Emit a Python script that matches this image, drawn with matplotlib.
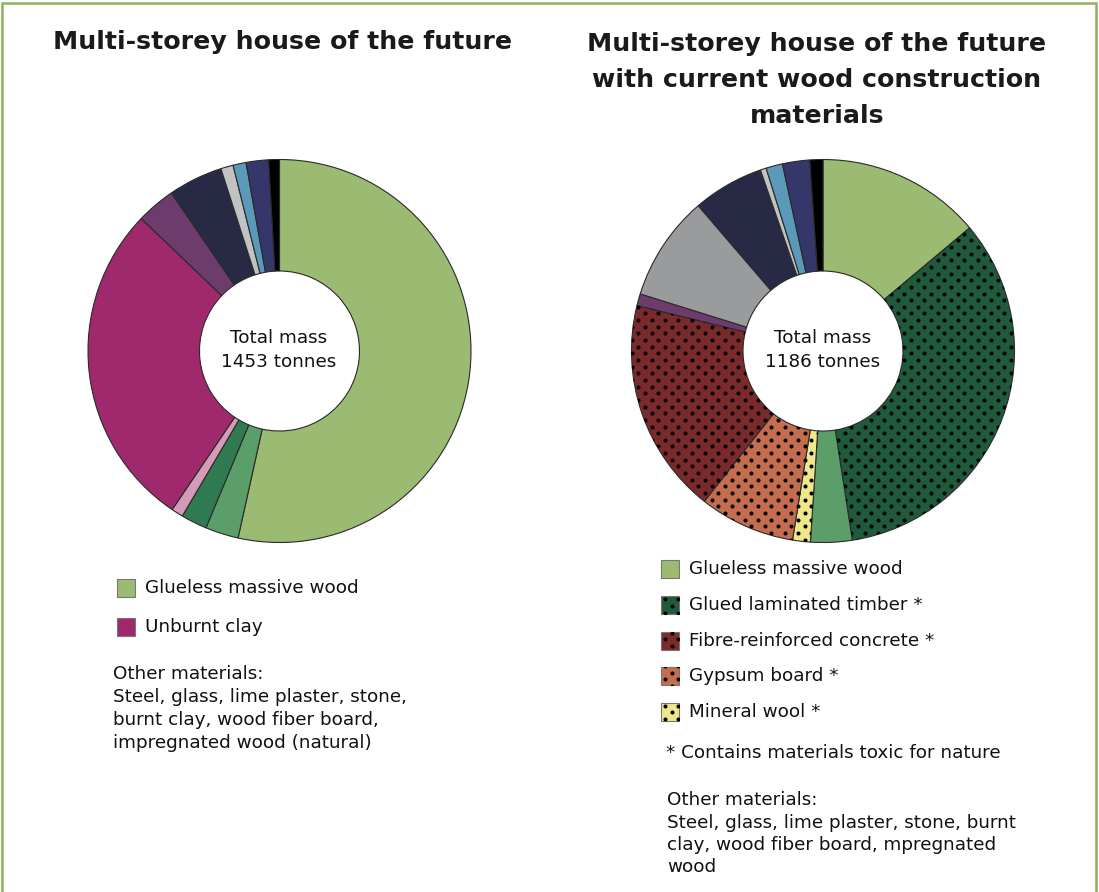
import numpy as np
import matplotlib.pyplot as plt
from matplotlib.patches import Rectangle

W, H = 1099, 892

# left donut: multi-storey house of the future (shares in %)
left_labels = ['Glueless massive wood', 'Wood fiber board', 'Impregnated wood', 'Burnt clay',
               'Unburnt clay', 'Lime plaster', 'Steel', 'Glass', 'Stone', 'Other 1', 'Other 2']
left_values = [53.5, 2.8, 2.2, 1.0, 27.7, 3.3, 4.6, 1.05, 1.1, 1.9, 0.9]
left_colors = ['#9bba72', '#5b9e6a', '#2f7a50', '#d49ab7', '#a0296e', '#6e3b6d',
               '#282a45', '#c0c2c4', '#5a9ab8', '#35366a', '#000000']

# right donut: with current wood construction materials (shares in %)
right_labels = ['Glueless massive wood', 'Glued laminated timber', 'Wood fiber board', 'Mineral wool',
                'Gypsum board', 'Fibre-reinforced concrete', 'Lime plaster', 'Grey', 'Steel',
                'Glass', 'Stone', 'Other 1', 'Other 2']
right_values = [13.9, 33.7, 3.5, 1.5, 8.1, 18.2, 1.0, 8.9, 6.0, 0.5, 1.4, 2.3, 1.1]
right_colors = ['#9bba72', '#1f5a3c', '#5b9e6a', '#f0e68a', '#c46d4f', '#7b2a2c', '#6e3b6d',
                '#9a9b9c', '#282a45', '#c0c2c4', '#5a9ab8', '#35366a', '#000000']
right_dotted = [False, True, False, True, True, True, False, False, False, False, False, False, False]

left_total = '1453 tonnes'
right_total = '1186 tonnes'

left_legend = [('Glueless massive wood', '#9bba72', False), ('Unburnt clay', '#a0296e', False)]
right_legend = [('Glueless massive wood', '#9bba72', False),
                ('Glued laminated timber *', '#1f5a3c', True),
                ('Fibre-reinforced concrete *', '#7b2a2c', True),
                ('Gypsum board *', '#c46d4f', True),
                ('Mineral wool *', '#f0e68a', True)]

FONT = 'DejaVu Sans'
TXT = '#111111'
FS = 13.2
TS = 18.2


def Y(y):
    return H - y


# staggered dot texture used for the "toxic" materials
DX, DY = 13.3, 6.65
gx, gy = np.meshgrid(np.arange(0, W + DX, DX), np.arange(0, H + DY, DY))
gx = gx + (np.arange(gy.shape[0]) % 2)[:, None] * DX / 2
gx, gy = gx.ravel(), gy.ravel()


def add_dots(patch):
    sc = ax.scatter(gx, gy, s=8.5, c='black', linewidths=0, zorder=patch.get_zorder() + 0.1)
    sc.set_clip_path(patch)


fig = plt.figure(figsize=(W / 100, H / 100), dpi=100)
ax = fig.add_axes([0, 0, 1, 1])

R = 191.5
hole = 80
wp = dict(width=R - hole, edgecolor='#2a2a2a', linewidth=0.8)

ax.pie(left_values, colors=left_colors, startangle=90, counterclock=False,
       center=(279.5, Y(351)), radius=R, wedgeprops=wp, frame=True)
wedges, _ = ax.pie(right_values, colors=right_colors, startangle=90, counterclock=False,
                   center=(823, Y(351)), radius=R, wedgeprops=wp, frame=True)
for w, dotted in zip(wedges, right_dotted):
    if dotted:
        add_dots(w)

ax.set_xlim(0, W)
ax.set_ylim(0, H)
ax.set_aspect('auto')
ax.axis('off')

# frame
ax.add_patch(Rectangle((2, -20), W - 5, H - 3 + 20, fill=False, edgecolor='#8cb35c', linewidth=1.8))

# titles
ax.text(283, Y(42), 'Multi-storey house of the future', ha='center', va='center',
        fontsize=TS, fontweight='bold', family=FONT, color='#1a1a1a')
for i, line in enumerate(['Multi-storey house of the future', 'with current wood construction', 'materials']):
    ax.text(817, Y(44 + 36 * i), line, ha='center', va='center',
            fontsize=TS, fontweight='bold', family=FONT, color='#1a1a1a')

# center labels
for cx, tot in [(279, left_total), (823, right_total)]:
    ax.text(cx, Y(338), 'Total mass', ha='center', va='center', fontsize=FS, family=FONT, color=TXT)
    ax.text(cx, Y(362), tot, ha='center', va='center', fontsize=FS, family=FONT, color=TXT)


# legends
def legend(x, y0, step, items):
    for i, (lab, col, dotted) in enumerate(items):
        y = y0 + step * i
        sq = ax.add_patch(Rectangle((x - 9, Y(y) - 9), 18, 18, facecolor=col,
                                    edgecolor='#777777', linewidth=0.8))
        if dotted:
            add_dots(sq)
        ax.text(x + 19, Y(y), lab, ha='left', va='center', fontsize=FS, family=FONT, color=TXT)


legend(126, 588, 39, left_legend)
legend(670, 569, 35.8, right_legend)

left_other = ['Other materials:', 'Steel, glass, lime plaster, stone,',
              'burnt clay, wood fiber board,', 'impregnated wood (natural)']
for i, line in enumerate(left_other):
    ax.text(113, Y(674 + 23 * i), line, ha='left', va='center', fontsize=FS, family=FONT, color=TXT)

ax.text(666, Y(753), '* Contains materials toxic for nature', ha='left', va='center',
        fontsize=FS, family=FONT, color=TXT)
right_other = ['Other materials:', 'Steel, glass, lime plaster, stone, burnt',
               'clay, wood fiber board, mpregnated', 'wood']
for i, line in enumerate(right_other):
    ax.text(667, Y(800 + 22.5 * i), line, ha='left', va='center', fontsize=FS, family=FONT, color=TXT)

fig.savefig('out.png', dpi=100)
